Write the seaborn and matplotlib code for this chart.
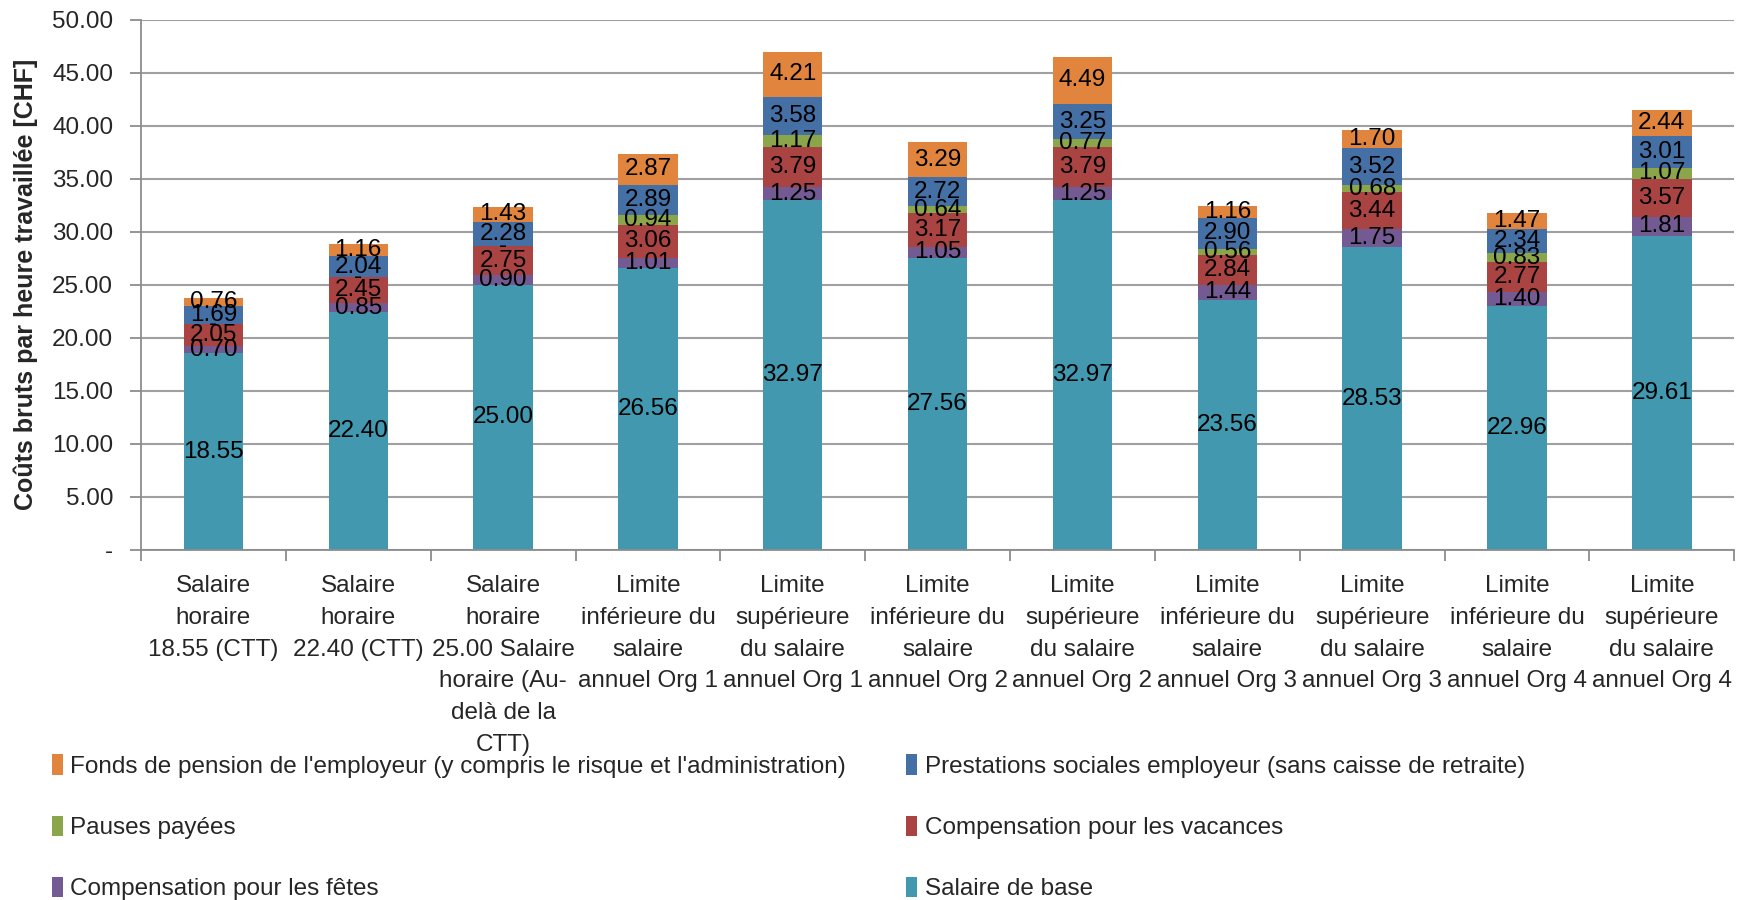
import matplotlib
matplotlib.use("Agg")
import matplotlib.pyplot as plt
import seaborn as sns
import numpy as np
from matplotlib.ticker import FixedLocator, FuncFormatter

# categories (x-axis labels, wrapped as in the original)
categories = [
    "Salaire\nhoraire\n18.55 (CTT)",
    "Salaire\nhoraire\n22.40 (CTT)",
    "Salaire\nhoraire\n25.00 Salaire\nhoraire (Au-\ndelà de la\nCTT)",
    "Limite\ninférieure du\nsalaire\nannuel Org 1",
    "Limite\nsupérieure\ndu salaire\nannuel Org 1",
    "Limite\ninférieure du\nsalaire\nannuel Org 2",
    "Limite\nsupérieure\ndu salaire\nannuel Org 2",
    "Limite\ninférieure du\nsalaire\nannuel Org 3",
    "Limite\nsupérieure\ndu salaire\nannuel Org 3",
    "Limite\ninférieure du\nsalaire\nannuel Org 4",
    "Limite\nsupérieure\ndu salaire\nannuel Org 4",
]

# series, bottom to top
salaire_base = [18.55, 22.40, 25.00, 26.56, 32.97, 27.56, 32.97, 23.56, 28.53, 22.96, 29.61]
comp_fetes = [0.70, 0.85, 0.90, 1.01, 1.25, 1.05, 1.25, 1.44, 1.75, 1.40, 1.81]
comp_vacances = [2.05, 2.45, 2.75, 3.06, 3.79, 3.17, 3.79, 2.84, 3.44, 2.77, 3.57]
pauses_payees = [0.00, 0.00, 0.00, 0.94, 1.17, 0.64, 0.77, 0.56, 0.68, 0.83, 1.07]
prestations = [1.69, 2.04, 2.28, 2.89, 3.58, 2.72, 3.25, 2.90, 3.52, 2.34, 3.01]
fonds_pension = [0.76, 1.16, 1.43, 2.87, 4.21, 3.29, 4.49, 1.16, 1.70, 1.47, 2.44]

series_names = [
    "Salaire de base",
    "Compensation pour les fêtes",
    "Compensation pour les vacances",
    "Pauses payées",
    "Prestations sociales employeur (sans caisse de retraite)",
    "Fonds de pension de l'employeur (y compris le risque et l'administration)",
]
series_values = [salaire_base, comp_fetes, comp_vacances, pauses_payees, prestations, fonds_pension]
colors = ["#4198AF", "#735A92", "#A94442", "#8BA54A", "#4470A5", "#E0843E"]

sns.set_style("white")
plt.rcParams["font.family"] = ["Liberation Sans", "DejaVu Sans"]

fig = plt.figure(figsize=(17.47, 9), dpi=100)
ax = fig.add_axes([0.0807, 0.389, 0.912, 0.589])

bottom = np.zeros(len(categories))
for name, vals, col in zip(series_names, series_values, colors):
    sns.barplot(x=categories, y=vals, bottom=bottom, color=col, saturation=1,
                width=0.41, label=name, ax=ax, order=categories, linewidth=0)
    labels = ["-" if v == 0 else f"{v:.2f}" for v in vals]
    ax.bar_label(ax.containers[-1], labels=labels, label_type="center",
                 fontsize=17.5, color="black")
    bottom += np.array(vals)

if ax.get_legend() is not None:
    ax.get_legend().remove()

ax.set_ylim(0, 50)
ax.set_xlim(-0.5, len(categories) - 0.5)
ax.yaxis.set_major_locator(FixedLocator(np.arange(0, 50.1, 5)))
ax.yaxis.set_major_formatter(FuncFormatter(lambda v, p: "-" if v == 0 else f"{v:.2f}"))
ax.yaxis.grid(True, color="#A0A0A0", linewidth=1.5)
ax.set_axisbelow(True)

for s in ["top", "right"]:
    ax.spines[s].set_visible(False)
for s in ["left", "bottom"]:
    ax.spines[s].set_color("#8C8C8C")
    ax.spines[s].set_linewidth(1.3)

ax.tick_params(axis="y", left=True, length=8, color="#8C8C8C", width=1.3, labelsize=17.5, pad=12)
ax.set_xticks(np.arange(len(categories)))
ax.set_xticklabels(categories, fontsize=17.5, linespacing=1.58, va="top")
ax.tick_params(axis="x", which="major", length=0, pad=18)
ax.set_xticks(np.arange(-0.5, len(categories)), minor=True)
ax.tick_params(axis="x", which="minor", bottom=True, length=8, color="#8C8C8C", width=1.3)
ax.set_xlabel("")
ax.set_ylabel("Coûts bruts par heure travaillée [CHF]", fontsize=18, fontweight="bold", labelpad=10)

handles, labs = ax.get_legend_handles_labels()
order = [5, 3, 1, 4, 2, 0]
fig.legend([handles[i] for i in order], [labs[i] for i in order],
           loc="upper left", bbox_to_anchor=(0.017, 0.186), ncol=2, frameon=False,
           fontsize=17.5, handlelength=0.45, handleheight=0.9, handletextpad=0.3,
           labelspacing=1.55, columnspacing=2.5)

fig.savefig("out.png", dpi=100)
